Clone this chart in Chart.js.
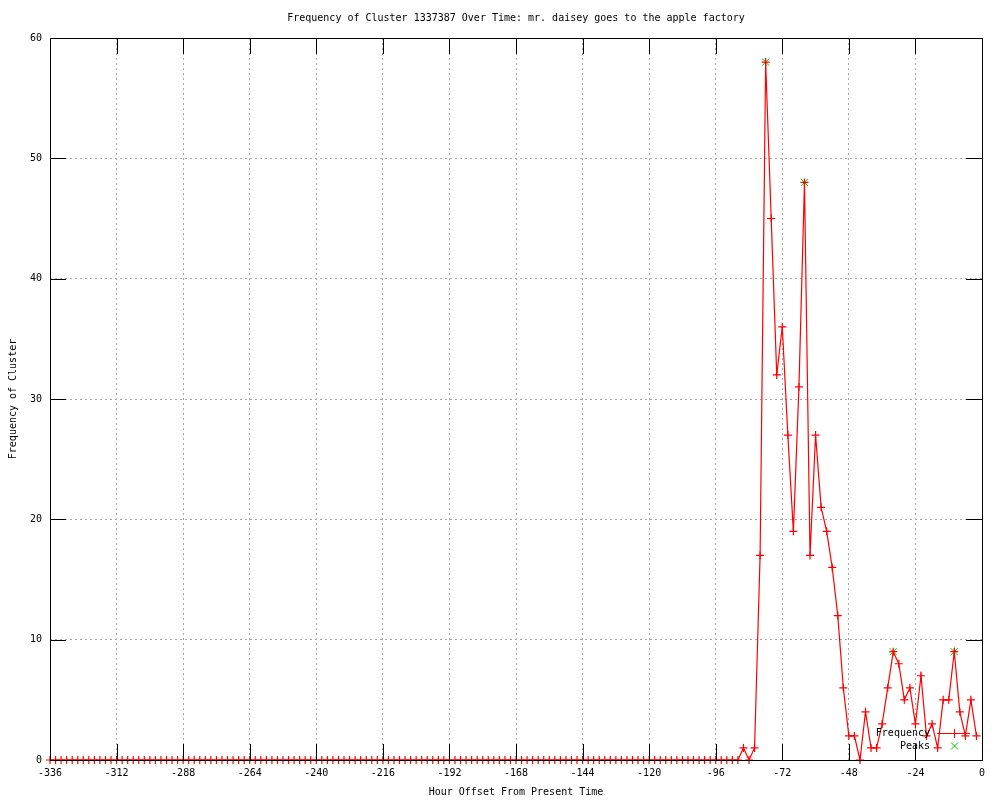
<!DOCTYPE html>
<html>
<head>
<meta charset="utf-8">
<title>Frequency of Cluster 1337387</title>
<script src="https://cdn.jsdelivr.net/npm/chart.js@4/dist/chart.umd.min.js"></script>
<style>
  html, body { margin: 0; padding: 0; background: #fff; }
  #wrap { width: 1000px; height: 800px; }
</style>
</head>
<body>
<div id="wrap"><canvas id="chart" width="1000" height="800"></canvas></div>
<script>
// ── Data ────────────────────────────────────────────────────────────────────
const TITLE = "Frequency of Cluster 1337387 Over Time: mr. daisey goes to the apple factory";

// hour offsets, one row per day
const hours = [
  -336, -334, -332, -330, -328, -326, -324, -322, -320, -318, -316, -314,
  -312, -310, -308, -306, -304, -302, -300, -298, -296, -294, -292, -290,
  -288, -286, -284, -282, -280, -278, -276, -274, -272, -270, -268, -266,
  -264, -262, -260, -258, -256, -254, -252, -250, -248, -246, -244, -242,
  -240, -238, -236, -234, -232, -230, -228, -226, -224, -222, -220, -218,
  -216, -214, -212, -210, -208, -206, -204, -202, -200, -198, -196, -194,
  -192, -190, -188, -186, -184, -182, -180, -178, -176, -174, -172, -170,
  -168, -166, -164, -162, -160, -158, -156, -154, -152, -150, -148, -146,
  -144, -142, -140, -138, -136, -134, -132, -130, -128, -126, -124, -122,
  -120, -118, -116, -114, -112, -110, -108, -106, -104, -102, -100,  -98,
   -96,  -94,  -92,  -90,  -88,  -86,  -84,  -82,  -80,  -78,  -76,  -74,
   -72,  -70,  -68,  -66,  -64,  -62,  -60,  -58,  -56,  -54,  -52,  -50,
   -48,  -46,  -44,  -42,  -40,  -38,  -36,  -34,  -32,  -30,  -28,  -26,
   -24,  -22,  -20,  -18,  -16,  -14,  -12,  -10,   -8,   -6,   -4,   -2
];

const frequency = [
  0, 0, 0, 0, 0, 0, 0, 0, 0, 0, 0, 0,
  0, 0, 0, 0, 0, 0, 0, 0, 0, 0, 0, 0,
  0, 0, 0, 0, 0, 0, 0, 0, 0, 0, 0, 0,
  0, 0, 0, 0, 0, 0, 0, 0, 0, 0, 0, 0,
  0, 0, 0, 0, 0, 0, 0, 0, 0, 0, 0, 0,
  0, 0, 0, 0, 0, 0, 0, 0, 0, 0, 0, 0,
  0, 0, 0, 0, 0, 0, 0, 0, 0, 0, 0, 0,
  0, 0, 0, 0, 0, 0, 0, 0, 0, 0, 0, 0,
  0, 0, 0, 0, 0, 0, 0, 0, 0, 0, 0, 0,
  0, 0, 0, 0, 0, 0, 0, 0, 0, 0, 0, 0,
  0, 0, 0, 0, 0, 1, 0, 1, 17, 58, 45, 32,
  36, 27, 19, 31, 48, 17, 27, 21, 19, 16, 12, 6,
  2, 2, 0, 4, 1, 1, 3, 6, 9, 8, 5, 6,
  3, 7, 2, 3, 1, 5, 5, 9, 4, 2, 5, 2
];

const peakHours  = [-78, -64, -32, -10];
const peakValues = [58, 48, 9, 9];

const xTicks = [-336, -312, -288, -264, -240, -216, -192, -168, -144, -120, -96, -72, -48, -24, 0];
const yTicks = [0, 10, 20, 30, 40, 50, 60];

const SERIES_NAMES = ["Frequency", "Peaks"];

// ── Style ───────────────────────────────────────────────────────────────────
const FONT = "'DejaVu Sans Mono', 'Liberation Mono', monospace";
const FONT_SIZE = 10;
const RED = "#ff0000";
const GREEN = "#00c000";
const GRID = "#a8a8a8";
const TICK_LEN = 16;

Chart.defaults.font.family = FONT;
Chart.defaults.font.size = FONT_SIZE;
Chart.defaults.color = "#000";

// border box + inward mirrored tick marks, drawn over the data like gnuplot does
const frameTicks = {
  id: "frameTicks",
  afterDatasetsDraw(chart) {
    const { ctx, chartArea: a, scales: { x, y } } = chart;
    ctx.save();
    ctx.strokeStyle = "#000";
    ctx.lineWidth = 1;
    ctx.setLineDash([]);
    ctx.beginPath();
    xTicks.forEach(v => {
      const px = Math.round(x.getPixelForValue(v)) + 0.5;
      ctx.moveTo(px, a.bottom); ctx.lineTo(px, a.bottom - TICK_LEN);
      ctx.moveTo(px, a.top);    ctx.lineTo(px, a.top + TICK_LEN);
    });
    yTicks.forEach(v => {
      const py = Math.round(y.getPixelForValue(v)) + 0.5;
      ctx.moveTo(a.left, py);  ctx.lineTo(a.left + TICK_LEN, py);
      ctx.moveTo(a.right, py); ctx.lineTo(a.right - TICK_LEN, py);
    });
    ctx.stroke();
    ctx.strokeRect(Math.round(a.left) + 0.5, Math.round(a.top) + 0.5,
                   Math.round(a.right - a.left), Math.round(a.bottom - a.top));
    ctx.restore();
  }
};

// gnuplot style key in the lower right corner
const keyBox = {
  id: "keyBox",
  afterDatasetsDraw(chart) {
    const { ctx, chartArea: a } = chart;
    const textRight = a.right - 52;
    const x0 = a.right - 45, x1 = a.right - 12, xm = Math.round((x0 + x1) / 2) + 0.5;
    const row1 = Math.round(a.bottom - 27), row2 = Math.round(a.bottom - 14);
    ctx.save();
    ctx.font = `${FONT_SIZE}px ${FONT}`;
    ctx.fillStyle = "#000";
    ctx.textAlign = "right";
    ctx.textBaseline = "middle";
    ctx.fillText(SERIES_NAMES[0], textRight, row1);
    ctx.fillText(SERIES_NAMES[1], textRight, row2);
    ctx.lineWidth = 1;
    ctx.setLineDash([]);
    // Frequency sample: line with a plus
    ctx.strokeStyle = RED;
    ctx.beginPath();
    ctx.moveTo(x0, row1 + 0.5); ctx.lineTo(x1, row1 + 0.5);
    ctx.moveTo(xm, row1 - 4);   ctx.lineTo(xm, row1 + 5);
    ctx.moveTo(xm - 4.5, row1 + 0.5); ctx.lineTo(xm + 4.5, row1 + 0.5);
    ctx.stroke();
    // Peaks sample: green x
    ctx.strokeStyle = GREEN;
    ctx.beginPath();
    ctx.moveTo(xm - 3.5, row2 - 3.5); ctx.lineTo(xm + 3.5, row2 + 3.5);
    ctx.moveTo(xm - 3.5, row2 + 3.5); ctx.lineTo(xm + 3.5, row2 - 3.5);
    ctx.stroke();
    ctx.restore();
  }
};

const ctx = document.getElementById("chart").getContext("2d");

new Chart(ctx, {
  type: "line",
  data: {
    datasets: [
      {
        label: SERIES_NAMES[0],
        data: hours.map((h, i) => ({ x: h, y: frequency[i] })),
        borderColor: RED,
        borderWidth: 1.2,
        tension: 0,
        pointStyle: "cross",
        pointRadius: 4,
        pointBorderColor: RED,
        pointBorderWidth: 1.2,
        pointHoverRadius: 4,
        fill: false,
        clip: false,
        order: 0
      },
      {
        label: SERIES_NAMES[1],
        data: peakHours.map((h, i) => ({ x: h, y: peakValues[i] })),
        showLine: false,
        pointStyle: "crossRot",
        pointRadius: 5,
        pointBorderColor: GREEN,
        pointBorderWidth: 1,
        pointHoverRadius: 5,
        clip: false,
        order: 1
      }
    ]
  },
  options: {
    responsive: false,
    animation: false,
    events: [],
    layout: { padding: { left: 0, right: 18, top: 0, bottom: 0 } },
    plugins: {
      legend: { display: false },
      tooltip: { enabled: false },
      title: {
        display: true,
        text: TITLE,
        fullSize: false,
        color: "#000",
        font: { family: FONT, size: FONT_SIZE, weight: "normal" },
        padding: { top: 12.5, bottom: 13.5 }
      }
    },
    scales: {
      x: {
        type: "linear",
        min: -336,
        max: 0,
        afterFit(scale) { scale.height = 40; },
        afterBuildTicks(scale) { scale.ticks = xTicks.map(v => ({ value: v })); },
        ticks: { autoSkip: false, maxRotation: 0, padding: 7, color: "#000" },
        grid: { color: GRID, lineWidth: 1, drawTicks: false },
        border: { display: false, dash: [2, 3] },
        title: {
          display: true,
          text: "Hour Offset From Present Time",
          color: "#000",
          padding: { top: 0, bottom: 1.5 }
        }
      },
      y: {
        type: "linear",
        min: 0,
        max: 60,
        afterFit(scale) { scale.width = 50; },
        afterBuildTicks(scale) { scale.ticks = yTicks.map(v => ({ value: v })); },
        ticks: { padding: 8, color: "#000" },
        grid: { color: GRID, lineWidth: 1, drawTicks: false },
        border: { display: false, dash: [2, 3] },
        title: {
          display: true,
          text: "Frequency of Cluster",
          color: "#000",
          padding: { top: 7, bottom: 0 }
        }
      }
    }
  },
  plugins: [frameTicks, keyBox]
});
</script>
</body>
</html>
